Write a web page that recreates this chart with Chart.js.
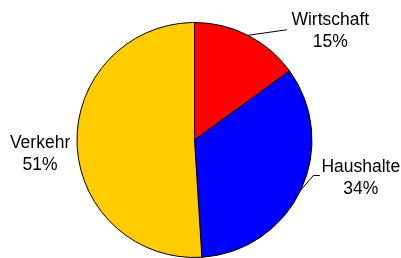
<!DOCTYPE html>
<html><head><meta charset="utf-8">
<script src="https://cdn.jsdelivr.net/npm/chart.js@4"></script>
<style>html,body{margin:0;padding:0;background:#fff}canvas{display:block}</style>
</head><body>
<canvas id="c" width="401" height="258"></canvas>
<script>
const categories = ['Wirtschaft', 'Haushalte', 'Verkehr'];
const shares = [15, 34, 51];
const sliceColors = ['#FF0000', '#0000FF', '#FFCC00'];

// label placement relative to each slice's outer mid-point
const labelLayout = [
  { leader: [[39, -5.5]], text: [82.5, -10] },
  { leader: [[12.5, -14.5], [19, -14.5]], text: [60, -18.5] },
  { leader: [], text: [-37, 4.5] }
];
const lineHeight = 22;
const labelFont = '17.5px "Liberation Sans", Arial, sans-serif';

const pieLabels = {
  id: 'pieLabels',
  afterDatasetsDraw(chart) {
    const ctx = chart.ctx;
    const meta = chart.getDatasetMeta(0);
    ctx.save();
    ctx.font = labelFont;
    ctx.fillStyle = '#000';
    ctx.strokeStyle = '#000';
    ctx.lineWidth = 1;
    ctx.textAlign = 'center';
    ctx.textBaseline = 'alphabetic';
    meta.data.forEach((arc, i) => {
      const p = arc.getProps(['x', 'y', 'startAngle', 'endAngle', 'outerRadius'], true);
      const mid = (p.startAngle + p.endAngle) / 2;
      const ex = p.x + p.outerRadius * Math.cos(mid);
      const ey = p.y + p.outerRadius * Math.sin(mid);
      const lay = labelLayout[i];
      if (lay.leader.length) {
        ctx.beginPath();
        ctx.moveTo(ex, ey);
        lay.leader.forEach(([dx, dy]) => ctx.lineTo(ex + dx, ey + dy));
        ctx.stroke();
      }
      const tx = ex + lay.text[0], ty = ey + lay.text[1];
      ctx.fillText(categories[i], tx, ty);
      ctx.fillText(shares[i] + '%', tx, ty + lineHeight);
    });
    ctx.restore();
  }
};

new Chart(document.getElementById('c'), {
  type: 'pie',
  data: {
    labels: categories,
    datasets: [{
      data: shares,
      backgroundColor: sliceColors,
      borderColor: '#000',
      borderWidth: 1
    }]
  },
  options: {
    responsive: false,
    animation: false,
    layout: { padding: { left: 76, right: 88, top: 22, bottom: 0 } },
    plugins: { legend: { display: false }, tooltip: { enabled: false } }
  },
  plugins: [pieLabels]
});
</script>
</body></html>
